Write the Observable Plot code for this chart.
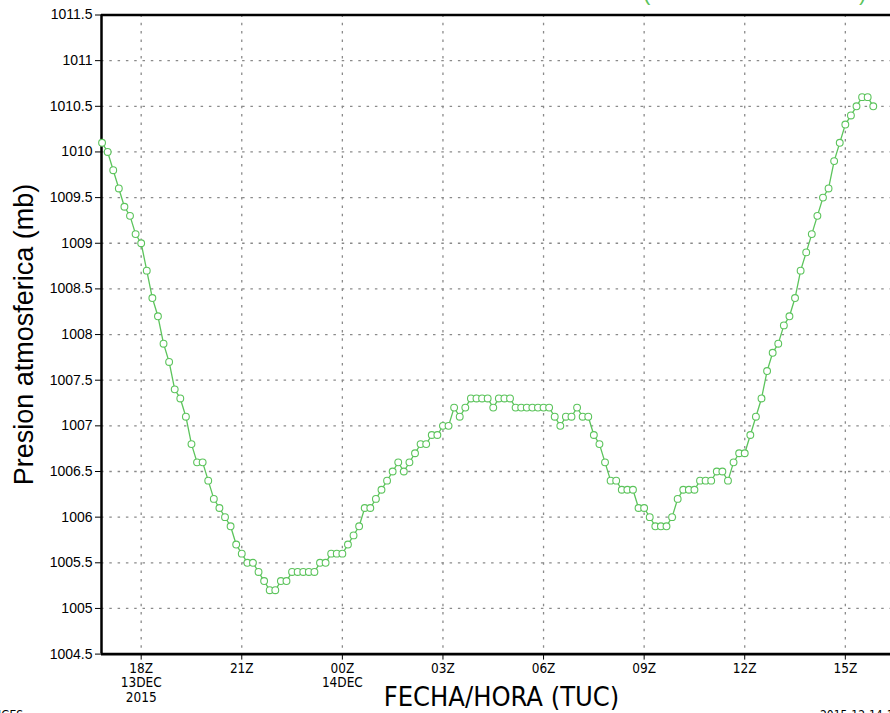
<!DOCTYPE html>
<html>
<head>
<meta charset="utf-8">
<script src="https://cdn.jsdelivr.net/npm/d3@7"></script>
<script src="https://cdn.jsdelivr.net/npm/@observablehq/plot@0.6"></script>
<style>
  html, body { margin: 0; padding: 0; background: #fff; }
  #chart svg { display: block; }
</style>
</head>
<body>
<div id="chart"></div>
<script>
const times = [
  "13T16:50","13T17:00","13T17:10","13T17:20","13T17:30","13T17:40","13T17:50",
  "13T18:00","13T18:10","13T18:20","13T18:30","13T18:40","13T18:50",
  "13T19:00","13T19:10","13T19:20","13T19:30","13T19:40","13T19:50",
  "13T20:00","13T20:10","13T20:20","13T20:30","13T20:40","13T20:50",
  "13T21:00","13T21:10","13T21:20","13T21:30","13T21:40","13T21:50",
  "13T22:00","13T22:10","13T22:20","13T22:30","13T22:40","13T22:50",
  "13T23:00","13T23:10","13T23:20","13T23:30","13T23:40","13T23:50",
  "14T00:00","14T00:10","14T00:20","14T00:30","14T00:40","14T00:50",
  "14T01:00","14T01:10","14T01:20","14T01:30","14T01:40","14T01:50",
  "14T02:00","14T02:10","14T02:20","14T02:30","14T02:40","14T02:50",
  "14T03:00","14T03:10","14T03:20","14T03:30","14T03:40","14T03:50",
  "14T04:00","14T04:10","14T04:20","14T04:30","14T04:40","14T04:50",
  "14T05:00","14T05:10","14T05:20","14T05:30","14T05:40","14T05:50",
  "14T06:00","14T06:10","14T06:20","14T06:30","14T06:40","14T06:50",
  "14T07:00","14T07:10","14T07:20","14T07:30","14T07:40","14T07:50",
  "14T08:00","14T08:10","14T08:20","14T08:30","14T08:40","14T08:50",
  "14T09:00","14T09:10","14T09:20","14T09:30","14T09:40","14T09:50",
  "14T10:00","14T10:10","14T10:20","14T10:30","14T10:40","14T10:50",
  "14T11:00","14T11:10","14T11:20","14T11:30","14T11:40","14T11:50",
  "14T12:00","14T12:10","14T12:20","14T12:30","14T12:40","14T12:50",
  "14T13:00","14T13:10","14T13:20","14T13:30","14T13:40","14T13:50",
  "14T14:00","14T14:10","14T14:20","14T14:30","14T14:40","14T14:50",
  "14T15:00","14T15:10","14T15:20","14T15:30","14T15:40","14T15:50"
];
const pressure = [
  1010.1,1010.0,1009.8,1009.6,1009.4,1009.3,1009.1,
  1009.0,1008.7,1008.4,1008.2,1007.9,1007.7,
  1007.4,1007.3,1007.1,1006.8,1006.6,1006.6,
  1006.4,1006.2,1006.1,1006.0,1005.9,1005.7,
  1005.6,1005.5,1005.5,1005.4,1005.3,1005.2,
  1005.2,1005.3,1005.3,1005.4,1005.4,1005.4,
  1005.4,1005.4,1005.5,1005.5,1005.6,1005.6,
  1005.6,1005.7,1005.8,1005.9,1006.1,1006.1,
  1006.2,1006.3,1006.4,1006.5,1006.6,1006.5,
  1006.6,1006.7,1006.8,1006.8,1006.9,1006.9,
  1007.0,1007.0,1007.2,1007.1,1007.2,1007.3,
  1007.3,1007.3,1007.3,1007.2,1007.3,1007.3,
  1007.3,1007.2,1007.2,1007.2,1007.2,1007.2,
  1007.2,1007.2,1007.1,1007.0,1007.1,1007.1,
  1007.2,1007.1,1007.1,1006.9,1006.8,1006.6,
  1006.4,1006.4,1006.3,1006.3,1006.3,1006.1,
  1006.1,1006.0,1005.9,1005.9,1005.9,1006.0,
  1006.2,1006.3,1006.3,1006.3,1006.4,1006.4,
  1006.4,1006.5,1006.5,1006.4,1006.6,1006.7,
  1006.7,1006.9,1007.1,1007.3,1007.6,1007.8,
  1007.9,1008.1,1008.2,1008.4,1008.7,1008.9,
  1009.1,1009.3,1009.5,1009.6,1009.9,1010.1,
  1010.3,1010.4,1010.5,1010.6,1010.6,1010.5
];
const xTickTimes = ["13T18:00","13T21:00","14T00:00","14T03:00","14T06:00","14T09:00","14T12:00","14T15:00"];
const xTickLabels = ["18Z\n13DEC\n2015","21Z","00Z\n14DEC","03Z","06Z","09Z","12Z","15Z"];
const yTicks = [1004.5,1005,1005.5,1006,1006.5,1007,1007.5,1008,1008.5,1009,1009.5,1010,1010.5,1011,1011.5];
const xDomainTimes = ["13T16:49:00","14T16:20:50"];
const yDomain = [1004.5, 1011.5];
const yTitle = "Presion atmosferica (mb)";
const xTitle = "FECHA/HORA (TUC)";

// ---- build ----
const parseT = s => new Date("2015-12-" + s + (s.length === 8 ? ":00Z" : "Z"));
const data = times.map((t, i) => ({t: parseT(t), p: pressure[i]}));
const xTicks = xTickTimes.map(parseT);
const labelByTime = new Map(xTicks.map((d, i) => [+d, xTickLabels[i]]));
const xDomain = xDomainTimes.map(parseT);

const green = "#5cc45c";
const narrow = "'Liberation Sans Narrow', 'DejaVu Sans Condensed', 'Arial Narrow', sans-serif";
const sans = "'Liberation Sans', Arial, sans-serif";

const chart = Plot.plot({
  width: 890,
  height: 713,
  marginLeft: 101,
  marginRight: 0,
  marginTop: 14.5,
  marginBottom: 59.4,
  style: {background: "#fff", color: "#000"},
  x: {type: "utc", domain: xDomain},
  y: {domain: yDomain},
  marks: [
    Plot.ruleX(xTicks, {stroke: "#8a8a8a", strokeWidth: 1.3, strokeDasharray: "2.5,5.8"}),
    Plot.ruleY(yTicks.slice(1, -1), {stroke: "#8a8a8a", strokeWidth: 1.3, strokeDasharray: "2.5,5.8"}),
    Plot.ruleY(yDomain, {stroke: "#000", strokeWidth: 2.7}),
    Plot.ruleX([xDomain[0]], {stroke: "#000", strokeWidth: 2.5}),
    Plot.axisY({
      ticks: yTicks, tickFormat: d => String(d), tickSize: 6, tickPadding: 3,
      fontSize: 14, fontFamily: sans, label: null
    }),
    Plot.axisX({
      ticks: xTicks, tickFormat: d => labelByTime.get(+d), tickSize: 6, tickPadding: 2,
      fontSize: 13.5, fontFamily: narrow, lineHeight: 1.1, label: null
    }),
    Plot.line(data, {x: "t", y: "p", stroke: green, strokeWidth: 1.3}),
    Plot.dot(data, {x: "t", y: "p", r: 3.4, stroke: green, fill: "#fff", strokeWidth: 1.1}),
    Plot.text([yTitle], {text: d => d, frameAnchor: "left", textAnchor: "middle", dx: -77, rotate: -90,
      fontSize: 27, fontFamily: sans, fill: "#000"}),
    Plot.text([xTitle], {text: d => d, frameAnchor: "bottom", textAnchor: "middle", dx: 5.5, dy: 52, lineAnchor: "bottom",
      fontSize: 27, fontFamily: narrow, fill: "#000"})
  ]
});

// cropped decorations at the image edges
const svg = d3.select(chart);
const deco = (x, y, txt, size, fill, family) => svg.append("text")
  .attr("x", x).attr("y", y).attr("fill", fill).attr("text-anchor", "start")
  .attr("font-family", family).attr("font-size", size).text(txt);
deco(643, 0, "(", 22, green, sans);
deco(859, 0, ")", 22, green, sans);
deco(-2, 719, "IGES", 12, "#000", narrow);
deco(820, 719, "2015-12-14-16:34", 12, "#000", narrow);

document.getElementById("chart").append(chart);
</script>
</body>
</html>
